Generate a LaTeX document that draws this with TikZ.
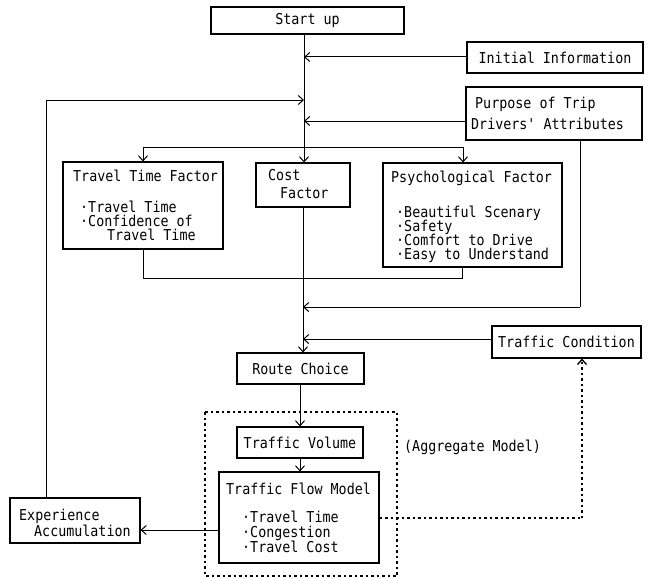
\documentclass[tikz,border=0pt]{standalone}
\usepackage{fontspec}
\setmonofont[FakeStretch=0.89]{DejaVu Sans Mono}
\usetikzlibrary{arrows.meta}
\begin{document}
\begin{tikzpicture}[x=1pt,y=-1pt,
  font=\ttfamily\fontsize{15}{14.5}\selectfont,
  box/.style={draw, line width=1.1pt, inner sep=0pt},
  txt/.style={anchor=base west, inner sep=0pt},
  arr/.style={-{Straight Barb[length=5pt,width=9pt]}, line width=1pt},
  ln/.style={line width=1pt},
  dotl/.style={line width=1.3pt, dash pattern=on 2.5pt off 3pt}]
\fill[white] (0,0) rectangle (655,578);
\useasboundingbox (0,0) rectangle (655,578);

% boxes
\node[box, minimum width=193pt, minimum height=27pt] (start) at (307.5,20.5) {Start up};
\node[box, minimum width=176pt, minimum height=31pt] (init) at (555,57.5) {Initial Information};
\node[box, minimum width=176pt, minimum height=53pt] (purp) at (554,113.5) {};
\node[box, minimum width=160pt, minimum height=87pt] (tt) at (143,205.5) {};
\node[box, minimum width=94pt, minimum height=44pt] (cost) at (303,185) {};
\node[box, minimum width=179pt, minimum height=104pt] (psy) at (472.5,215) {};
\node[box, minimum width=149pt, minimum height=32pt] (tc) at (566.5,342) {Traffic Condition};
\node[box, minimum width=127pt, minimum height=31pt] (rc) at (300.5,368.5) {Route Choice};
\node[box, minimum width=126pt, minimum height=31pt] (tv) at (300,442.5) {Traffic Volume};
\node[box, minimum width=160pt, minimum height=91pt] (tfm) at (299,517.5) {};
\node[box, minimum width=130pt, minimum height=45pt] (exp) at (75,520.5) {};

% texts
\node[txt] (p1) at (475,108) {Purpose of Trip};
\node[txt] (p2) at (471,129) {Drivers' Attributes};
\node[txt] (t1) at (73,181) {Travel Time Factor};
\node[txt] (t2) at (80,212) {·Travel Time};
\node[txt] (t3) at (80,226) {·Confidence of};
\node[txt] (t4) at (107,240) {Travel Time};
\node[txt] (c1) at (268,180) {Cost};
\node[txt] (c2) at (280,198) {Factor};
\node[txt] (s1) at (391,182) {Psychological Factor};
\node[txt] (s2) at (396,217) {·Beautiful Scenary};
\node[txt] (s3) at (396,231) {·Safety};
\node[txt] (s4) at (396,245) {·Comfort to Drive};
\node[txt] (s5) at (396,259) {·Easy to Understand};
\node[txt] (f1) at (226,494) {Traffic Flow Model};
\node[txt] (f2) at (242,522) {·Travel Time};
\node[txt] (f3) at (242,537) {·Congestion};
\node[txt] (f4) at (242,552) {·Travel Cost};
\node[txt] (e1) at (19,520) {Experience};
\node[txt] (e2) at (34,536) {Accumulation};
\node[txt] (agg) at (404,451) {(Aggregate Model)};

% dotted aggregate box
\draw[dotl] (205,412) rectangle (397,576);

% coordinates on the main line
\coordinate (mA) at (304,57);
\coordinate (mB) at (304,100);
\coordinate (mC) at (304,121);
\coordinate (sp) at (304,147);
\coordinate (sl) at (143,147);
\coordinate (sr) at (463,147);
\coordinate (col) at (462,278);
\coordinate (pd) at (580,307);
\coordinate (mD) at (303,307);
\coordinate (mE) at (303,339);
\coordinate (fb) at (46,100);
\coordinate (dc) at (582,518);

% connectors
\draw[ln] (start.south -| sp) -- (sp);
\draw[arr] (init.west |- mA) -- (mA);
\draw[arr] (fb) -- (mB);
\draw[arr] (purp.west |- mC) -- (mC);
\draw[ln] (sl) -- (sr);
\draw[arr] (sl) -- (tt.north -| sl);
\draw[arr] (sp) -- (cost.north -| sp);
\draw[arr] (sr) -- (psy.north -| sr);
\draw[ln] (tt.south -| sl) |- (col) -- (psy.south -| col);
\draw[arr] (cost.south -| mD) -- (rc.north -| mD);
\draw[ln] (purp.south -| pd) -- (pd);
\draw[arr] (pd) -- (mD);
\draw[arr] (tc.west |- mE) -- (mE);
\draw[arr] (rc.south -| 300,0) -- (tv.north -| 300,0);
\draw[arr] (tv.south -| 300,0) -- (tfm.north -| 300,0);
\draw[arr] (tfm.west |- 0,530) -- (exp.east |- 0,530);
\draw[ln] (exp.north -| fb) -- (fb);
\draw[dotl] (tfm.east |- dc) -- (dc);
\draw[dotl, -{Straight Barb[length=5pt,width=9pt]}] (dc) -- (tc.south -| dc);
\end{tikzpicture}
\end{document}
